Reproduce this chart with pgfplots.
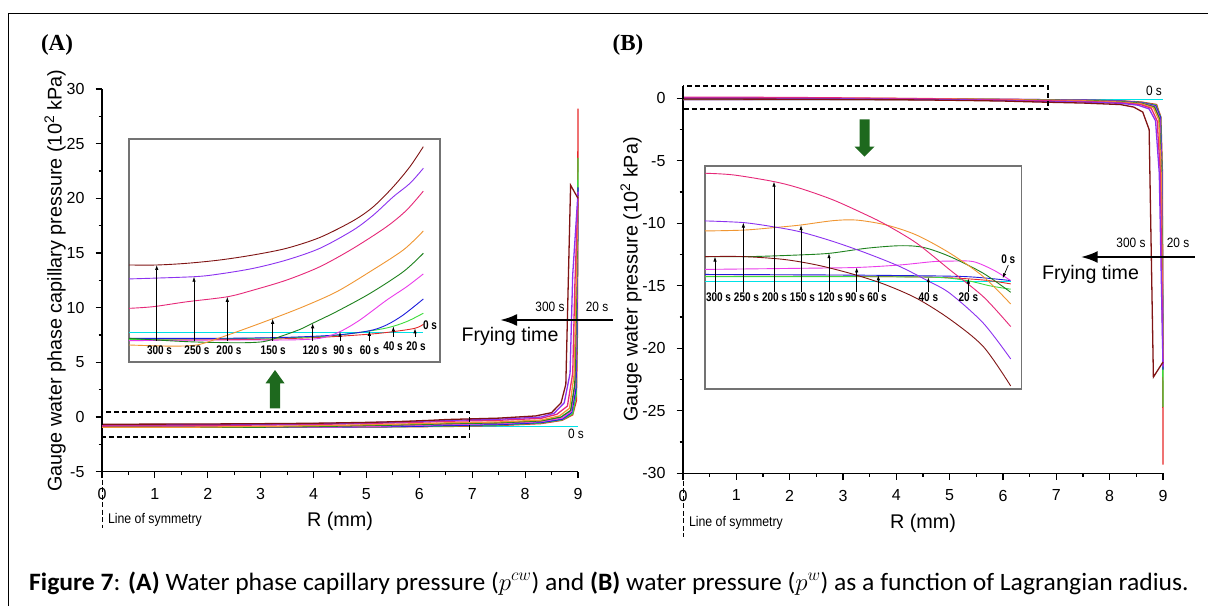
\documentclass[border=0pt]{standalone}
\usepackage{fontspec}
\setmainfont{Liberation Sans}
\newfontfamily\nar[FakeStretch=0.88]{Liberation Sans}
\newfontfamily\narb[FakeStretch=0.8]{Liberation Sans}
\newfontfamily\serifb{Liberation Serif}
\newfontfamily\capfont[FakeStretch=1.025]{Carlito}
\usepackage{pgfplots}
\pgfplotsset{compat=1.18}
\usetikzlibrary{arrows.meta}
\newcommand{\fs}[1]{\fontsize{#1}{#1}\selectfont}
\definecolor{c0}{RGB}{0,225,230}
\definecolor{c20}{RGB}{230,40,40}
\definecolor{c40}{RGB}{60,220,60}
\definecolor{c60}{RGB}{30,30,220}
\definecolor{c90}{RGB}{235,60,235}
\definecolor{c120}{RGB}{30,130,30}
\definecolor{c150}{RGB}{240,150,50}
\definecolor{c200}{RGB}{230,40,120}
\definecolor{c250}{RGB}{140,50,240}
\definecolor{c300}{RGB}{128,20,20}
\definecolor{agreen}{RGB}{30,105,30}
\tikzset{
 iarr/.style={line width=0.7pt, -{Latex[length=5pt,width=3.4pt]}},
 ilab/.style={font=\narb\bfseries\fs{12.5}},
}
\pgfplotsset{
 mainax/.style={scale only axis, axis lines=left, axis line style={line width=1.2pt,-},
  tick align=outside, major tick length=6.5pt, minor tick length=3.5pt,
  every tick/.style={black,line width=1.2pt}, minor tick num=1,
  xmin=0, xmax=9, xtick={0,...,9},
  tick label style={font=\fs{16}},
  xticklabel shift=6.5pt, yticklabel shift=7.5pt,
  /pgf/number format/assume math mode=true, clip=false},
 insetax/.style={scale only axis, axis line style={draw=black!55, line width=1.2pt},
  xtick=\empty, ytick=\empty, clip=false, axis background/.style={fill=white}},
 ml/.style={line width=1.3pt},
 il/.style={line width=0.9pt, smooth},
}
\begin{document}
\begin{tikzpicture}[x=1pt,y=1pt]
\useasboundingbox (0,0) rectangle (1208,606);
\draw[line width=1.2pt] (8.3,0) -- (8.3,592.7) -- (1208,592.7);

% ================= Panel A main =================
\begin{axis}[mainax, at={(102pt,134.3pt)}, anchor=south west, width=476pt, height=382.7pt,
  ymin=-5, ymax=30, ytick={-5,0,...,30}]
\addplot[c0,ml] coordinates {(0,-0.894) (9,-0.894)};
\addplot[c20,ml] coordinates {(0,-0.921) (2.75,-0.919) (4.23,-0.912) (5.33,-0.900) (6.51,-0.865) (7.5,-0.78) (8.3,-0.6) (8.7,-0.3) (8.9,0.2) (8.97,1.5) (8.99,8) (9,28.2)};
\addplot[c40,ml] coordinates {(0,-0.919) (2.75,-0.915) (4.23,-0.909) (5.70,-0.878) (6.51,-0.825) (7.5,-0.74) (8.3,-0.55) (8.7,-0.25) (8.9,0.3) (8.965,2) (8.985,8) (9,23.7)};
\addplot[c60,ml] coordinates {(0,-0.915) (3.49,-0.912) (4.59,-0.903) (5.32,-0.888) (6.07,-0.831) (6.51,-0.774) (7.5,-0.69) (8.3,-0.5) (8.7,-0.2) (8.88,0.4) (8.96,2.5) (8.98,8) (9,21)};
\addplot[c90,ml] coordinates {(0,-0.924) (3.49,-0.921) (4.23,-0.915) (4.67,-0.891) (5.11,-0.849) (5.70,-0.778) (6.14,-0.730) (6.51,-0.684) (7.5,-0.6) (8.3,-0.42) (8.7,-0.1) (8.87,0.5) (8.95,3) (8.975,9) (9,20.6)};
\addplot[c120,ml] coordinates {(0,-0.915) (1.28,-0.927) (2.38,-0.931) (2.97,-0.927) (3.34,-0.909) (3.78,-0.883) (4.06,-0.861) (4.59,-0.819) (5.33,-0.754) (6.07,-0.676) (6.51,-0.610) (7.5,-0.53) (8.3,-0.35) (8.68,0) (8.86,0.6) (8.94,3) (8.97,10) (9,20.3)};
\addplot[c150,ml] coordinates {(0,-0.939) (0.91,-0.943) (1.50,-0.939) (2.01,-0.913) (2.60,-0.879) (3.18,-0.845) (3.86,-0.802) (4.59,-0.748) (5.33,-0.676) (6.07,-0.598) (6.51,-0.530) (7.5,-0.45) (8.3,-0.28) (8.65,0.1) (8.84,0.8) (8.93,4) (8.96,11) (9,20.2)};
\addplot[c200,ml] coordinates {(0,-0.808) (0.54,-0.802) (1.28,-0.784) (2.18,-0.766) (2.75,-0.742) (3.49,-0.706) (4.23,-0.658) (4.96,-0.592) (5.70,-0.515) (6.14,-0.455) (6.51,-0.387) (7.5,-0.3) (8.3,-0.12) (8.6,0.25) (8.8,1.0) (8.9,4) (8.94,12) (9,20.1)};
\addplot[c250,ml] coordinates {(0,-0.702) (1.44,-0.694) (2.01,-0.684) (2.75,-0.664) (3.49,-0.634) (4.23,-0.592) (4.96,-0.527) (5.41,-0.473) (5.85,-0.407) (6.22,-0.359) (6.51,-0.305) (7.5,-0.2) (8.3,0) (8.55,0.35) (8.74,1.3) (8.85,4) (8.9,13) (9,20.5)};
\addplot[c300,ml] coordinates {(0,-0.652) (0.61,-0.652) (1.28,-0.646) (2.01,-0.634) (2.75,-0.616) (3.49,-0.592) (4.23,-0.553) (4.96,-0.493) (5.41,-0.443) (5.85,-0.371) (6.22,-0.299) (6.51,-0.228) (7.5,-0.1) (8.2,0.1) (8.5,0.4) (8.68,1.3) (8.77,3) (8.86,21.2) (9,20.0)};
\draw[black, line width=1.6pt, dash pattern=on 5pt off 3pt] (0,0.457) rectangle (6.95,-1.83);
\end{axis}

% ================= Panel A inset =================
\begin{axis}[insetax, at={(129pt,244pt)}, anchor=south west, width=311pt, height=223pt,
  xmin=0, xmax=6.88, ymin=-1, ymax=-0.2]
\addplot[c0,il] coordinates {(0,-0.894) (6.511,-0.894)};
\addplot[c20,il] coordinates {(0,-0.921) (2.751,-0.919) (4.225,-0.9115) (5.331,-0.900) (5.848,-0.891) (6.327,-0.879) (6.511,-0.865)};
\addplot[c40,il] coordinates {(0,-0.919) (2.751,-0.915) (4.225,-0.909) (4.963,-0.897) (5.700,-0.878) (6.143,-0.855) (6.511,-0.825)};
\addplot[c60,il] coordinates {(0,-0.915) (2.013,-0.915) (3.488,-0.9115) (4.594,-0.903) (5.317,-0.888) (5.700,-0.867) (6.069,-0.831) (6.511,-0.774)};
\addplot[c90,il] coordinates {(0,-0.9235) (2.013,-0.921) (3.488,-0.921) (4.225,-0.915) (4.668,-0.891) (5.110,-0.849) (5.700,-0.778) (6.143,-0.730) (6.511,-0.684)};
\addplot[c120,il] coordinates {(0,-0.915) (1.276,-0.927) (2.382,-0.931) (2.972,-0.927) (3.340,-0.909) (3.783,-0.883) (4.063,-0.861) (4.594,-0.819) (5.331,-0.754) (6.069,-0.676) (6.511,-0.610)};
\addplot[c150,il] coordinates {(0,-0.939) (0.907,-0.943) (1.497,-0.939) (2.013,-0.913) (2.603,-0.879) (3.178,-0.8445) (3.857,-0.8015) (4.594,-0.748) (5.331,-0.676) (6.069,-0.598) (6.511,-0.530)};
\addplot[c200,il] coordinates {(0,-0.8075) (0.538,-0.8015) (1.276,-0.784) (2.175,-0.766) (2.751,-0.742) (3.488,-0.706) (4.225,-0.658) (4.963,-0.592) (5.700,-0.5145) (6.143,-0.455) (6.511,-0.387)};
\addplot[c250,il] coordinates {(0,-0.702) (1.438,-0.694) (2.013,-0.684) (2.751,-0.664) (3.488,-0.634) (4.225,-0.592) (4.963,-0.5265) (5.405,-0.473) (5.848,-0.407) (6.216,-0.359) (6.511,-0.305)};
\addplot[c300,il] coordinates {(0,-0.652) (0.612,-0.652) (1.276,-0.646) (2.013,-0.634) (2.751,-0.616) (3.488,-0.592) (4.225,-0.553) (4.963,-0.493) (5.405,-0.443) (5.848,-0.371) (6.216,-0.299) (6.511,-0.2275)};
\draw[iarr] (0.613,-0.925) -- (0.613,-0.652);
\draw[iarr] (1.438,-0.925) -- (1.438,-0.694);
\draw[iarr] (2.175,-0.925) -- (2.175,-0.766);
\draw[iarr] (3.178,-0.925) -- (3.178,-0.845);
\draw[iarr] (4.063,-0.925) -- (4.063,-0.861);
\draw[iarr] (4.668,-0.925) -- (4.668,-0.891);
\draw[iarr] (5.317,-0.925) -- (5.317,-0.888);
\draw[iarr] (5.848,-0.910) -- (5.848,-0.872);
\draw[iarr] (6.327,-0.910) -- (6.327,-0.879);
\node[ilab] at (0.675,-0.957) {300 s};
\node[ilab] at (1.504,-0.957) {250 s};
\node[ilab] at (2.212,-0.957) {200 s};
\node[ilab] at (3.19,-0.957) {150 s};
\node[ilab] at (4.115,-0.957) {120 s};
\node[ilab] at (4.734,-0.957) {90 s};
\node[ilab] at (5.32,-0.957) {60 s};
\node[ilab] at (5.84,-0.943) {40 s};
\node[ilab] at (6.35,-0.943) {20 s};
\node[ilab] at (6.66,-0.867) {0 s};
\end{axis}

% ================= Panel B main =================
\begin{axis}[mainax, at={(683pt,132.7pt)}, anchor=south west, width=480pt, height=387.5pt,
  ymin=-30, ymax=1, ytick={-30,-25,...,0}]
\addplot[c0,ml] coordinates {(0,-0.107) (9,-0.107)};
\addplot[c20,ml] coordinates {(0,-0.098) (2.78,-0.098) (4.95,-0.0995) (6.04,-0.1045) (6.63,-0.1115) (7.5,-0.14) (8.2,-0.2) (8.6,-0.3) (8.88,-0.5) (8.96,-1.5) (8.99,-6) (9,-29.3)};
\addplot[c40,ml] coordinates {(0,-0.0985) (2.78,-0.0985) (4.95,-0.0995) (5.68,-0.1055) (6.18,-0.115) (6.63,-0.121) (7.5,-0.15) (8.2,-0.22) (8.6,-0.33) (8.87,-0.55) (8.955,-1.5) (8.985,-6) (9,-24.7)};
\addplot[c60,ml] coordinates {(0,-0.0945) (2.78,-0.0955) (4.23,-0.0965) (5.68,-0.0985) (6.63,-0.1055) (7.5,-0.14) (8.2,-0.22) (8.6,-0.35) (8.86,-0.6) (8.95,-1.5) (8.98,-6) (9,-21.7)};
\addplot[c90,ml] coordinates {(0,-0.0855) (2.06,-0.0835) (3.29,-0.082) (4.23,-0.0775) (4.95,-0.0715) (5.39,-0.0705) (5.82,-0.0715) (6.26,-0.0865) (6.63,-0.1055) (7.5,-0.15) (8.2,-0.24) (8.6,-0.38) (8.85,-0.65) (8.94,-1.6) (8.975,-6) (9,-21.4)};
\addplot[c120,ml] coordinates {(0,-0.0625) (0.98,-0.0625) (2.06,-0.0595) (2.71,-0.0565) (3.51,-0.0475) (4.23,-0.043) (4.74,-0.046) (5.32,-0.0625) (6.04,-0.0925) (6.63,-0.1265) (7.5,-0.17) (8.2,-0.26) (8.6,-0.4) (8.84,-0.7) (8.93,-1.6) (8.97,-6) (9,-21.0)};
\addplot[c150,ml] coordinates {(0,-0.0165) (0.83,-0.015) (1.50,-0.0105) (2.06,-0.006) (2.78,0.002) (3.29,0.003) (3.94,-0.006) (4.59,-0.024) (5.32,-0.0565) (6.04,-0.0985) (6.63,-0.1475) (7.5,-0.2) (8.2,-0.3) (8.6,-0.45) (8.82,-0.75) (8.92,-1.7) (8.965,-6) (9,-21.0)};
\addplot[c200,ml] coordinates {(0,0.087) (0.62,0.084) (1.50,0.072) (2.06,0.060) (2.78,0.039) (3.51,0.012) (3.94,-0.006) (4.59,-0.0385) (5.32,-0.0865) (6.04,-0.1345) (6.63,-0.188) (7.5,-0.25) (8.2,-0.35) (8.58,-0.5) (8.78,-0.8) (8.89,-1.8) (8.95,-6) (9,-21.3)};
\addplot[c250,ml] coordinates {(0,0.0015) (0.83,-0.0015) (1.48,-0.009) (2.06,-0.018) (2.78,-0.0355) (3.51,-0.0565) (4.23,-0.0805) (4.85,-0.1065) (5.32,-0.1285) (6.04,-0.182) (6.63,-0.246) (7.5,-0.3) (8.2,-0.4) (8.53,-0.55) (8.74,-0.85) (8.86,-1.8) (8.93,-6) (9,-21.5)};
\addplot[c300,ml] coordinates {(0,-0.0625) (0.83,-0.0625) (1.70,-0.0675) (2.42,-0.0775) (3.15,-0.0925) (3.87,-0.1115) (4.59,-0.1375) (5.32,-0.175) (6.04,-0.224) (6.63,-0.2945) (7.5,-0.38) (8.2,-0.5) (8.45,-0.7) (8.62,-1.1) (8.74,-2.5) (8.82,-22.3) (9,-21.1)};
\draw[black, line width=1.6pt, dash pattern=on 5pt off 3pt] (0,1.0) rectangle (6.84,-0.88);
\end{axis}

% ================= Panel B inset =================
\begin{axis}[insetax, at={(705pt,217pt)}, anchor=south west, width=316.7pt, height=223pt,
  xmin=0, xmax=6.87, ymin=-0.3, ymax=0.1]
\addplot[c0,il] coordinates {(0,-0.1065) (6.631,-0.1065)};
\addplot[c20,il] coordinates {(0,-0.098) (2.784,-0.098) (4.954,-0.0995) (6.038,-0.1045) (6.631,-0.1115)};
\addplot[c40,il] coordinates {(0,-0.0985) (2.784,-0.0985) (4.954,-0.0995) (5.677,-0.1055) (6.183,-0.115) (6.631,-0.121)};
\addplot[c60,il] coordinates {(0,-0.0945) (2.784,-0.0955) (4.230,-0.0965) (5.677,-0.0985) (6.631,-0.1055)};
\addplot[c90,il] coordinates {(0,-0.0855) (2.061,-0.0835) (3.290,-0.082) (4.230,-0.0775) (4.954,-0.0715) (5.388,-0.0705) (5.821,-0.0715) (6.255,-0.0865) (6.631,-0.1055)};
\addplot[c120,il] coordinates {(0,-0.0625) (0.976,-0.0625) (2.061,-0.0595) (2.712,-0.0565) (3.507,-0.0475) (4.230,-0.043) (4.737,-0.046) (5.315,-0.0625) (6.038,-0.0925) (6.631,-0.1265)};
\addplot[c150,il] coordinates {(0,-0.0165) (0.832,-0.015) (1.497,-0.0105) (2.061,-0.006) (2.784,0.002) (3.290,0.003) (3.941,-0.006) (4.592,-0.024) (5.315,-0.0565) (6.038,-0.0985) (6.631,-0.1475)};
\addplot[c200,il] coordinates {(0,0.087) (0.615,0.084) (1.497,0.072) (2.061,0.060) (2.784,0.039) (3.507,0.012) (3.941,-0.006) (4.592,-0.0385) (5.315,-0.0865) (6.038,-0.1345) (6.631,-0.188)};
\addplot[c250,il] coordinates {(0,0.0015) (0.832,-0.0015) (1.482,-0.009) (2.061,-0.018) (2.784,-0.0355) (3.507,-0.0565) (4.230,-0.0805) (4.845,-0.1065) (5.315,-0.1285) (6.038,-0.182) (6.631,-0.246)};
\addplot[c300,il] coordinates {(0,-0.0625) (0.832,-0.0625) (1.699,-0.0675) (2.423,-0.0775) (3.146,-0.0925) (3.869,-0.1115) (4.592,-0.1375) (5.315,-0.175) (6.038,-0.224) (6.631,-0.2945)};
\draw[iarr] (0.217,-0.126) -- (0.217,-0.0625);
\draw[iarr] (0.832,-0.126) -- (0.832,-0.0015);
\draw[iarr] (1.497,-0.126) -- (1.497,0.072);
\draw[iarr] (2.083,-0.126) -- (2.083,-0.006);
\draw[iarr] (2.690,-0.126) -- (2.690,-0.0565);
\draw[iarr] (3.290,-0.126) -- (3.290,-0.082);
\draw[iarr] (3.760,-0.126) -- (3.760,-0.096);
\draw[iarr] (4.845,-0.126) -- (4.845,-0.0995);
\draw[iarr] (5.713,-0.126) -- (5.713,-0.102);
\node[ilab] at (0.293,-0.135) {300 s};
\node[ilab] at (0.900,-0.135) {250 s};
\node[ilab] at (1.508,-0.135) {200 s};
\node[ilab] at (2.115,-0.135) {150 s};
\node[ilab] at (2.722,-0.135) {120 s};
\node[ilab] at (3.254,-0.135) {90 s};
\node[ilab] at (3.731,-0.135) {60 s};
\node[ilab] at (4.845,-0.135) {40 s};
\node[ilab] at (5.713,-0.135) {20 s};
\node[ilab] at (6.58,-0.067) {0 s};
\draw[iarr] (6.58,-0.0775) -- (6.457,-0.1015);
\end{axis}

% ================= annotations =================
% Panel A
\node[font=\serifb\bfseries\fs{23}] at (57,561) {(A)};
\node[font=\fs{19.8}, rotate=90] at (55,325.5) {Gauge water phase capillary pressure (10\textsuperscript{2} kPa)};
\node[font=\fs{19.8}] at (340,84.3) {R (mm)};
\draw[line width=0.8pt, dash pattern=on 5pt off 2.5pt] (102,134) -- (102,77.7);
\node[font=\nar\fs{14}, anchor=west] at (104.5,86) {Line of symmetry};
\node[font=\nar\fs{13.5}] at (550,299.3) {300 s};
\node[font=\nar\fs{13.5}] at (597,299.3) {20 s};
\draw[line width=2.6pt, -{Latex[length=17pt,width=12pt]}] (612.6,286) -- (500,286);
\node[font=\fs{19.6}] at (510,270) {Frying time};
\node[font=\nar\fs{13.5}] at (576,171.7) {0 s};
\fill[agreen] (269.8,197.7) -- (280.2,197.7) -- (280.2,222.7) -- (284.5,222.7) -- (275,236) -- (265.5,222.7) -- (269.8,222.7) -- cycle;
% Panel B
\node[font=\serifb\bfseries\fs{23}] at (628,561) {(B)};
\node[font=\fs{19.8}, rotate=90] at (631,326.5) {Gauge water pressure (10\textsuperscript{2} kPa)};
\node[font=\fs{19.8}] at (923,83) {R (mm)};
\draw[line width=0.8pt, dash pattern=on 5pt off 2.5pt] (683,132.7) -- (683,69.3);
\node[font=\nar\fs{14}, anchor=west] at (685.5,82.7) {Line of symmetry};
\node[font=\nar\fs{13.5}] at (1131,362.7) {300 s};
\node[font=\nar\fs{13.5}] at (1178,362.7) {20 s};
\draw[line width=2.6pt, -{Latex[length=17pt,width=12pt]}] (1194.6,349) -- (1080.7,349);
\node[font=\fs{19.6}] at (1090.5,332) {Frying time};
\node[font=\nar\fs{13.5}] at (1154,515.3) {0 s};
\fill[agreen] (859.5,486.7) -- (869.5,486.7) -- (869.5,459.3) -- (874.5,459.3) -- (864.5,449.3) -- (854.5,459.3) -- (859.5,459.3) -- cycle;
% Caption
\node[font=\capfont\fs{25}, anchor=base west, inner sep=0pt] at (29,16) {\textbf{Figure 7}: \textbf{(A)} Water phase capillary pressure ($p^{cw}$) and \textbf{(B)} water pressure ($p^{w}$) as a function of Lagrangian radius.};
\end{tikzpicture}
\end{document}
